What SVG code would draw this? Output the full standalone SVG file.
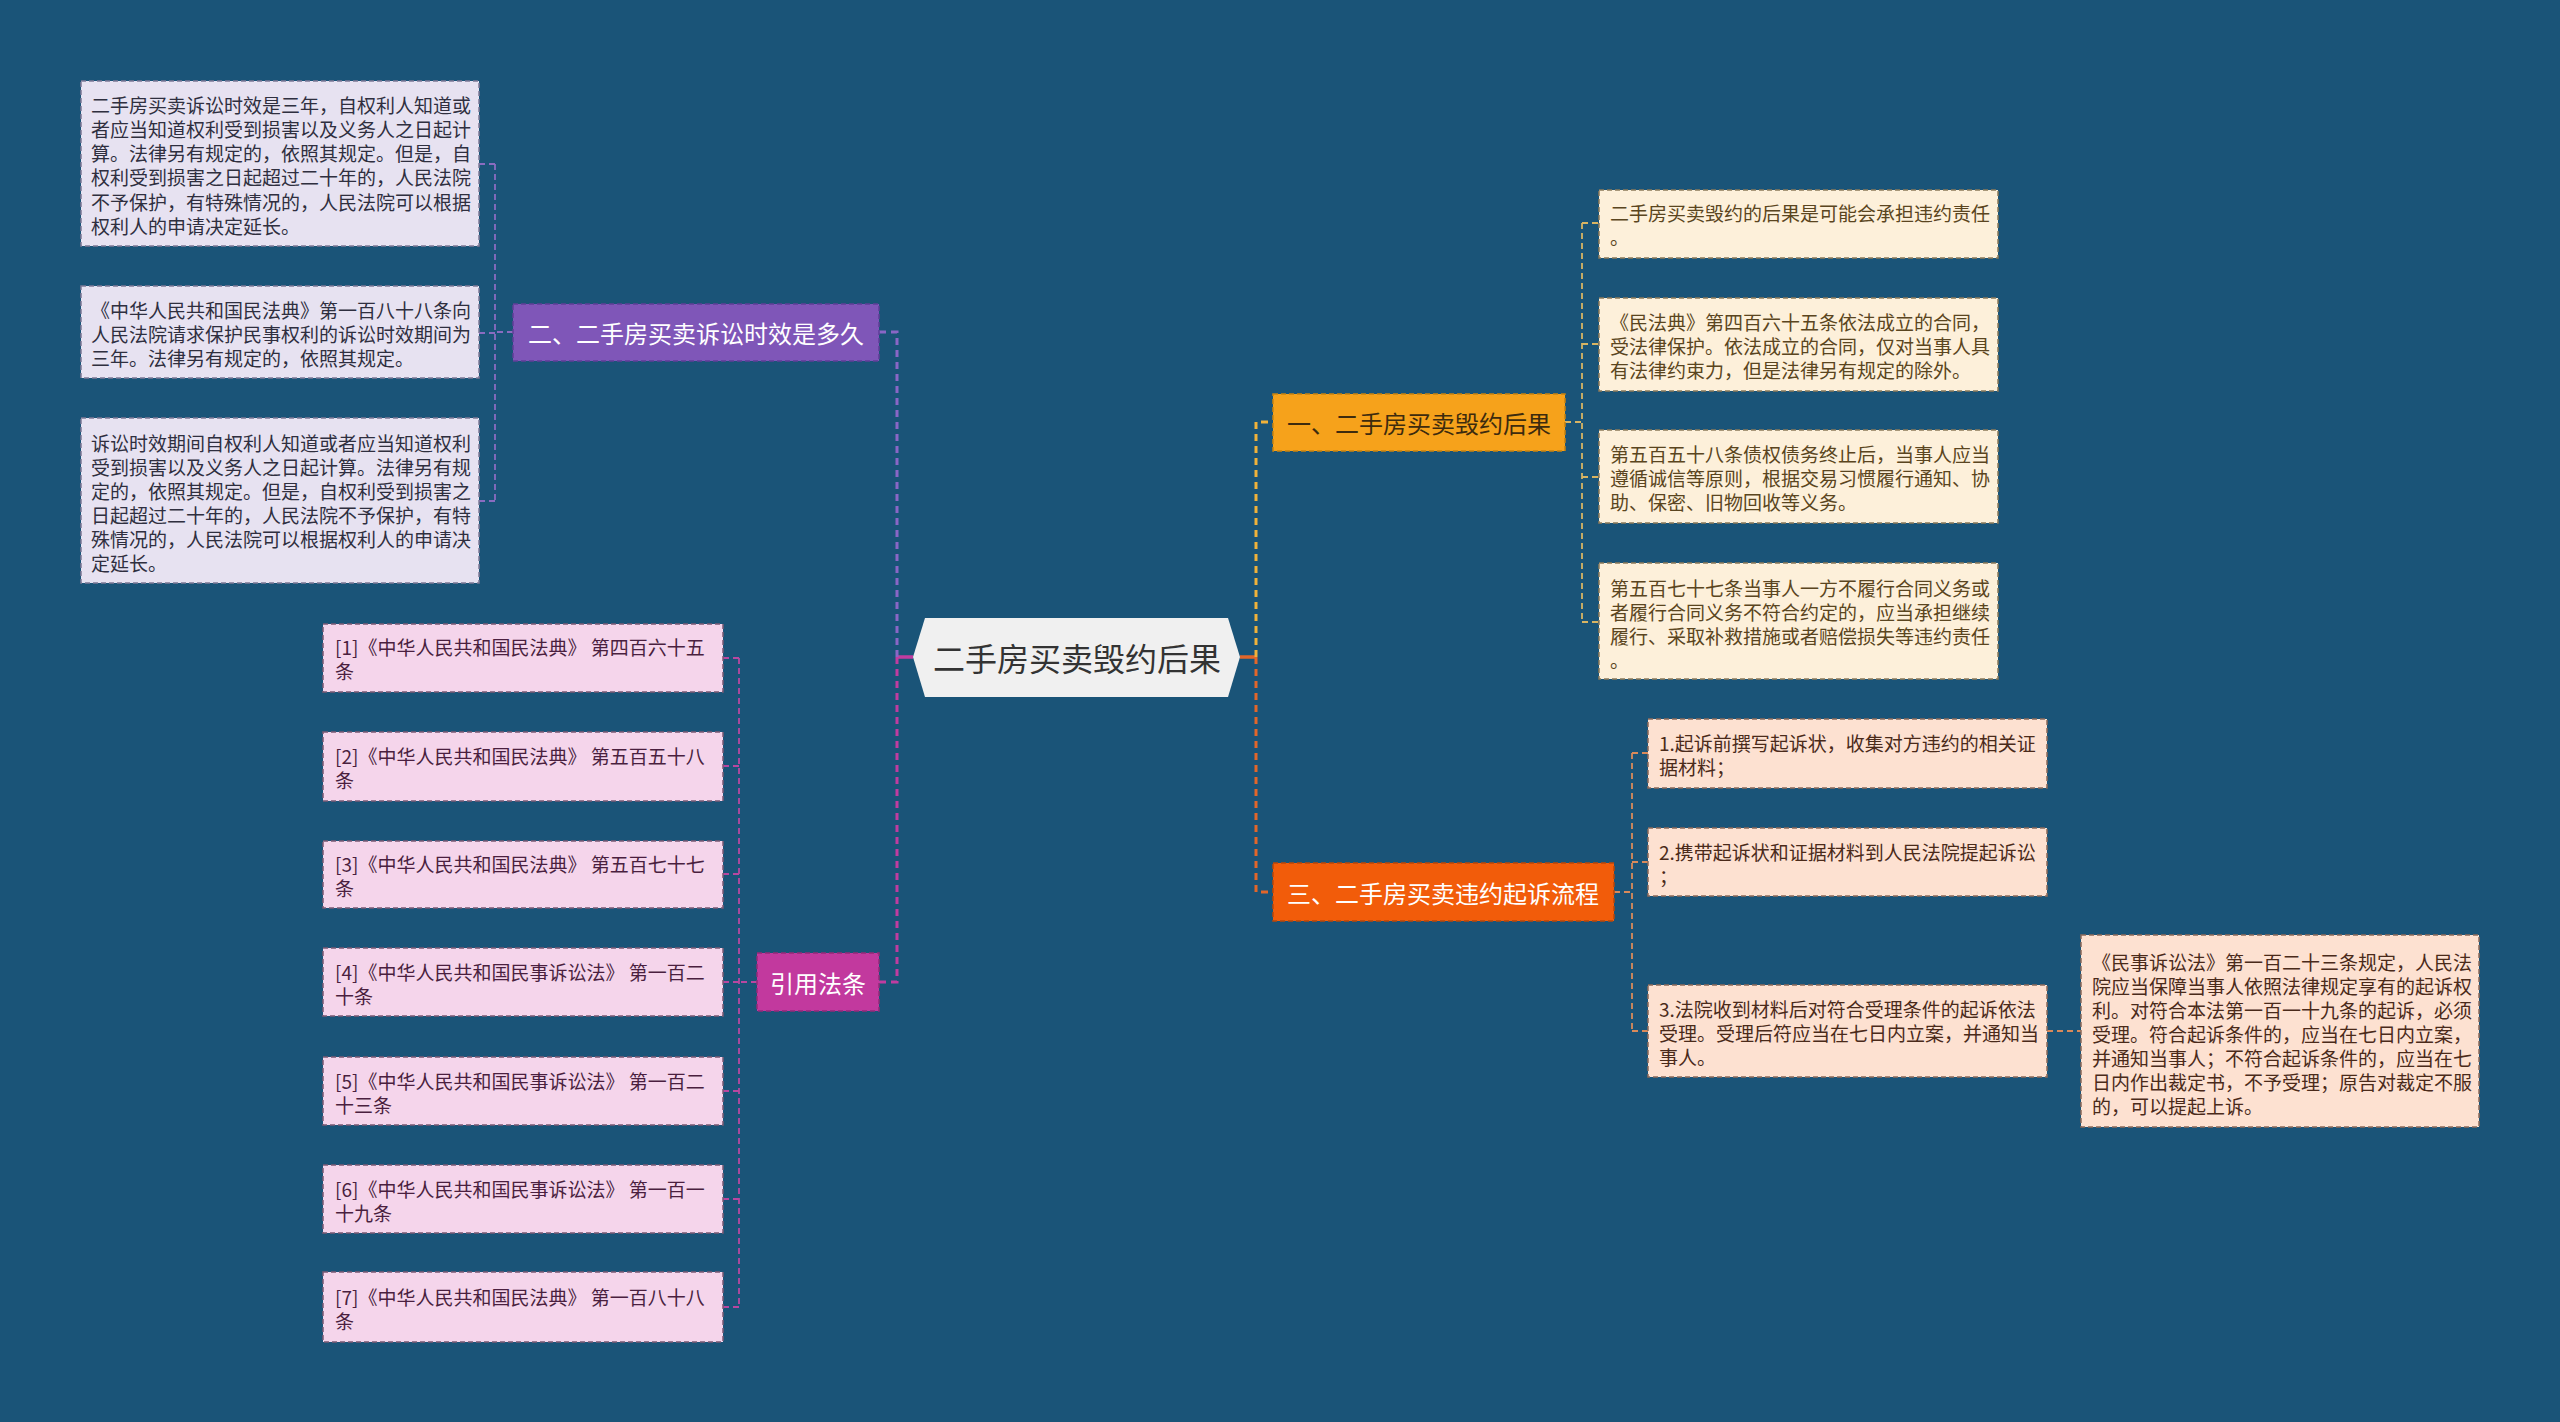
<svg xmlns="http://www.w3.org/2000/svg" width="2560" height="1422" viewBox="0 0 2560 1422">
<style>
text{font-family:"Noto Sans CJK SC","Liberation Sans",sans-serif;dominant-baseline:central}
.t19{font-size:19px}
.t24{font-size:24px}
.lav{fill:#e7e2f1;stroke:#7d7a96;stroke-width:1.5;stroke-dasharray:5 3}
.pink{fill:#f5d5eb;stroke:#7a5a74;stroke-width:1.5;stroke-dasharray:5 3}
.cream{fill:#fdf0da;stroke:#8c7a5a;stroke-width:1.5;stroke-dasharray:5 3}
.peach{fill:#fde1d1;stroke:#8c6a5a;stroke-width:1.5;stroke-dasharray:5 3}
.lavt{fill:#2f2f3f}
.pinkt{fill:#4a1f3f}
.creamt{fill:#5a4520}
.peacht{fill:#4a2a1a}
.main{stroke-width:1.5;stroke-dasharray:5 3}
.c-thick{fill:none;stroke-width:3;stroke-dasharray:7 5}
.c-thin{fill:none;stroke-width:1.8;stroke-dasharray:6 4}
</style>
<rect x="0" y="0" width="2560" height="1422" fill="#1a5478"/>

<g id="connectors">
  <!-- center left -->
  <line x1="913" y1="657" x2="897" y2="657" stroke="#c03ca0" stroke-width="3.5"/>
  <path class="c-thick" stroke="#8a66c6" d="M897 657 V332 H879"/>
  <path class="c-thick" stroke="#c03ca0" d="M897 657 V982 H879"/>
  <!-- center right -->
  <line x1="1240" y1="657" x2="1256" y2="657" stroke="#e2662a" stroke-width="3.5"/>
  <path class="c-thick" stroke="#f0b23a" d="M1256 657 V422 H1273"/>
  <path class="c-thick" stroke="#e2662a" d="M1256 657 V892 H1273"/>
  <!-- 二 group -->
  <path class="c-thin" stroke="#8a6cc0" d="M513 332 H495 M495 164 V502 M495 164 H479 M495 333 H479 M495 501 H479"/>
  <!-- 引用法条 group -->
  <path class="c-thin" stroke="#b847a0" d="M757 982 H739 M739 658 V1307 M739 658 H723 M739 766 H723 M739 874 H723 M739 982 H723 M739 1091 H723 M739 1199 H723 M739 1307 H723"/>
  <!-- 一 group -->
  <path class="c-thin" stroke="#d8b463" d="M1565 422 H1582 M1582 223 V622 M1582 223 H1599 M1582 344 H1599 M1582 477 H1599 M1582 622 H1599"/>
  <!-- 三 group -->
  <path class="c-thin" stroke="#d98a5a" d="M1614 892 H1632 M1632 753 V1031 M1632 753 H1648 M1632 862 H1648 M1632 1031 H1648"/>
  <path class="c-thin" stroke="#d98a5a" d="M2047 1031 H2081"/>
</g>

<g id="root">
  <polygon points="913,657 925,618 1228,618 1240,657 1228,697 925,697" fill="#f0f0f0"/>
  <text x="1077" y="657" font-size="32" fill="#333" text-anchor="middle">二手房买卖毁约后果</text>
</g>

<g id="n1">
  <rect x="1273" y="394" width="292" height="57" fill="#f6a21b" stroke="#c7830f" class="main"/>
  <text x="1419" y="422" class="t24" fill="#3d2b0e" text-anchor="middle">一、二手房买卖毁约后果</text>
</g>
<g id="n2">
  <rect x="513" y="304" width="366" height="57" fill="#7f56b8" stroke="#5f3e96" class="main"/>
  <text x="696" y="332" class="t24" fill="#fff" text-anchor="middle">二、二手房买卖诉讼时效是多久</text>
</g>
<g id="n3">
  <rect x="1273" y="863" width="341" height="58" fill="#f25c0a" stroke="#b8460a" class="main"/>
  <text x="1443" y="892" class="t24" fill="#fff" text-anchor="middle">三、二手房买卖违约起诉流程</text>
</g>
<g id="n4">
  <rect x="757" y="953" width="122" height="58" fill="#c2399e" stroke="#922a78" class="main"/>
  <text x="818" y="982" class="t24" fill="#fff" text-anchor="middle">引用法条</text>
</g>

<g id="b1">
  <rect class="lav" x="81" y="81" width="398" height="165"/>
  <text class="t19 lavt" x="91"><tspan x="91" y="104">二手房买卖诉讼时效是三年，自权利人知道或</tspan><tspan x="91" y="128">者应当知道权利受到损害以及义务人之日起计</tspan><tspan x="91" y="152">算。法律另有规定的，依照其规定。但是，自</tspan><tspan x="91" y="176">权利受到损害之日起超过二十年的，人民法院</tspan><tspan x="91" y="201">不予保护，有特殊情况的，人民法院可以根据</tspan><tspan x="91" y="225">权利人的申请决定延长。</tspan></text>
</g>
<g id="b2">
  <rect class="lav" x="81" y="286" width="398" height="92"/>
  <text class="t19 lavt" x="91"><tspan x="91" y="309">《中华人民共和国民法典》第一百八十八条向</tspan><tspan x="91" y="333">人民法院请求保护民事权利的诉讼时效期间为</tspan><tspan x="91" y="357">三年。法律另有规定的，依照其规定。</tspan></text>
</g>
<g id="b3">
  <rect class="lav" x="81" y="418" width="398" height="165"/>
  <text class="t19 lavt" x="91"><tspan x="91" y="442">诉讼时效期间自权利人知道或者应当知道权利</tspan><tspan x="91" y="466">受到损害以及义务人之日起计算。法律另有规</tspan><tspan x="91" y="490">定的，依照其规定。但是，自权利受到损害之</tspan><tspan x="91" y="514">日起超过二十年的，人民法院不予保护，有特</tspan><tspan x="91" y="538">殊情况的，人民法院可以根据权利人的申请决</tspan><tspan x="91" y="562">定延长。</tspan></text>
</g>

<g id="r1">
  <rect class="pink" x="323" y="624" width="400" height="68"/>
  <text class="t19 pinkt"><tspan x="335" y="646">[1]《中华人民共和国民法典》 第四百六十五</tspan><tspan x="335" y="670">条</tspan></text>
</g>
<g id="r2">
  <rect class="pink" x="323" y="732" width="400" height="69"/>
  <text class="t19 pinkt"><tspan x="335" y="755">[2]《中华人民共和国民法典》 第五百五十八</tspan><tspan x="335" y="779">条</tspan></text>
</g>
<g id="r3">
  <rect class="pink" x="323" y="841" width="400" height="67"/>
  <text class="t19 pinkt"><tspan x="335" y="863">[3]《中华人民共和国民法典》 第五百七十七</tspan><tspan x="335" y="887">条</tspan></text>
</g>
<g id="r4">
  <rect class="pink" x="323" y="948" width="400" height="68"/>
  <text class="t19 pinkt"><tspan x="335" y="971">[4]《中华人民共和国民事诉讼法》 第一百二</tspan><tspan x="335" y="995">十条</tspan></text>
</g>
<g id="r5">
  <rect class="pink" x="323" y="1057" width="400" height="68"/>
  <text class="t19 pinkt"><tspan x="335" y="1080">[5]《中华人民共和国民事诉讼法》 第一百二</tspan><tspan x="335" y="1104">十三条</tspan></text>
</g>
<g id="r6">
  <rect class="pink" x="323" y="1165" width="400" height="68"/>
  <text class="t19 pinkt"><tspan x="335" y="1188">[6]《中华人民共和国民事诉讼法》 第一百一</tspan><tspan x="335" y="1212">十九条</tspan></text>
</g>
<g id="r7">
  <rect class="pink" x="323" y="1272" width="400" height="70"/>
  <text class="t19 pinkt"><tspan x="335" y="1296">[7]《中华人民共和国民法典》 第一百八十八</tspan><tspan x="335" y="1320">条</tspan></text>
</g>

<g id="c1">
  <rect class="cream" x="1599" y="190" width="399" height="68"/>
  <text class="t19 creamt"><tspan x="1610" y="212">二手房买卖毁约的后果是可能会承担违约责任</tspan><tspan x="1610" y="236">。</tspan></text>
</g>
<g id="c2">
  <rect class="cream" x="1599" y="298" width="399" height="93"/>
  <text class="t19 creamt"><tspan x="1610" y="321">《民法典》第四百六十五条依法成立的合同，</tspan><tspan x="1610" y="345">受法律保护。依法成立的合同，仅对当事人具</tspan><tspan x="1610" y="369">有法律约束力，但是法律另有规定的除外。</tspan></text>
</g>
<g id="c3">
  <rect class="cream" x="1599" y="430" width="399" height="93"/>
  <text class="t19 creamt"><tspan x="1610" y="453">第五百五十八条债权债务终止后，当事人应当</tspan><tspan x="1610" y="477">遵循诚信等原则，根据交易习惯履行通知、协</tspan><tspan x="1610" y="501">助、保密、旧物回收等义务。</tspan></text>
</g>
<g id="c4">
  <rect class="cream" x="1599" y="563" width="399" height="116"/>
  <text class="t19 creamt"><tspan x="1610" y="587">第五百七十七条当事人一方不履行合同义务或</tspan><tspan x="1610" y="611">者履行合同义务不符合约定的，应当承担继续</tspan><tspan x="1610" y="635">履行、采取补救措施或者赔偿损失等违约责任</tspan><tspan x="1610" y="659">。</tspan></text>
</g>

<g id="d1">
  <rect class="peach" x="1648" y="719" width="399" height="69"/>
  <text class="t19 peacht"><tspan x="1659" y="742">1.起诉前撰写起诉状，收集对方违约的相关证</tspan><tspan x="1659" y="766">据材料；</tspan></text>
</g>
<g id="d2">
  <rect class="peach" x="1648" y="828" width="399" height="68"/>
  <text class="t19 peacht"><tspan x="1659" y="851">2.携带起诉状和证据材料到人民法院提起诉讼</tspan><tspan x="1659" y="875">；</tspan></text>
</g>
<g id="d3">
  <rect class="peach" x="1648" y="985" width="399" height="92"/>
  <text class="t19 peacht"><tspan x="1659" y="1008">3.法院收到材料后对符合受理条件的起诉依法</tspan><tspan x="1659" y="1032">受理。受理后符应当在七日内立案，并通知当</tspan><tspan x="1659" y="1056">事人。</tspan></text>
</g>
<g id="e1">
  <rect class="peach" x="2081" y="935" width="398" height="192"/>
  <text class="t19 peacht"><tspan x="2092" y="961">《民事诉讼法》第一百二十三条规定，人民法</tspan><tspan x="2092" y="985">院应当保障当事人依照法律规定享有的起诉权</tspan><tspan x="2092" y="1009">利。对符合本法第一百一十九条的起诉，必须</tspan><tspan x="2092" y="1033">受理。符合起诉条件的，应当在七日内立案，</tspan><tspan x="2092" y="1057">并通知当事人；不符合起诉条件的，应当在七</tspan><tspan x="2092" y="1081">日内作出裁定书，不予受理；原告对裁定不服</tspan><tspan x="2092" y="1105">的，可以提起上诉。</tspan></text>
</g>
</svg>
